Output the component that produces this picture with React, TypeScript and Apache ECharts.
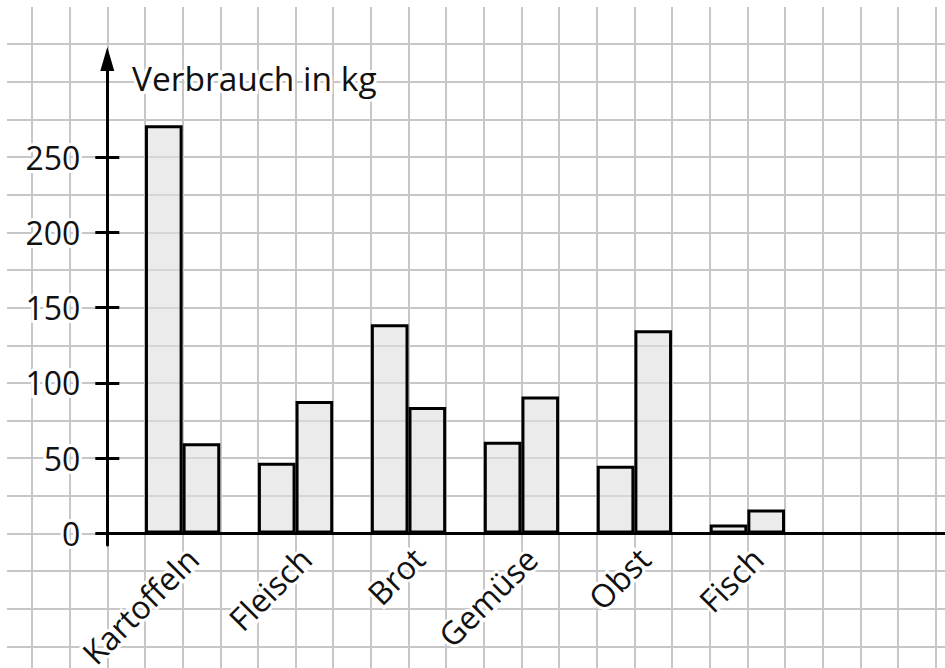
import React, { useEffect, useRef } from 'react';
import * as echarts from 'echarts';

const categories = ['Kartoffeln', 'Fleisch', 'Brot', 'Gemüse', 'Obst', 'Fisch'];
const seriesA = [271, 47, 139, 61, 45, 6];
const seriesB = [60, 88, 84, 91, 135, 16];
const yTickValues = [0, 50, 100, 150, 200, 250];
const yAxisTitle = 'Verbrauch in kg';

const U = 37.65;
const AXIS_X = 107.3;
const ZERO_Y = 533.5;
const FONT = '"Open Sans", "Noto Sans", sans-serif';

export default function App() {
  const ref = useRef<HTMLDivElement>(null);
  useEffect(() => {
    const chart = echarts.init(ref.current!, null, { renderer: 'svg' });
    const catPos = categories.map((_, i) => 2 + 3 * i);
    const pxPerUnit = (2 * U) / 50;
    const yMax = (ZERO_Y - 59) / pxPerUnit;
    const yMin = -(545 - ZERO_Y) / pxPerUnit;
    const xMax = (945 - AXIS_X) / U;
    const paperLine = { show: true, lineStyle: { color: '#c7c7c7', width: 2 } };
    const hidden = {
      axisLine: { show: false },
      axisTick: { show: false },
      axisLabel: { show: false },
      splitLine: { show: false },
    };
    const labelText = {
      fontFamily: FONT,
      fontSize: 32,
      color: '#111',
      textBorderColor: '#fff',
      textBorderWidth: 6,
    };
    const black = { color: '#000', width: 3 };
    const barStyle = {
      color: 'rgba(222,222,222,0.62)',
      borderColor: '#000',
      borderWidth: 3,
    };
    chart.setOption({
      animation: false,
      backgroundColor: '#fff',
      title: {
        text: yAxisTitle,
        left: 132,
        top: 61,
        padding: 0,
        textStyle: { ...labelText, fontSize: 33.5, fontWeight: 'normal' },
      },
      grid: [
        { left: 32, top: 7, width: 24 * U, height: 661, outerBoundsMode: 'none', containLabel: false },
        { left: 7, top: ZERO_Y - 13 * U, width: 938, height: 16 * U, outerBoundsMode: 'none', containLabel: false },
        { left: AXIS_X, top: 59, width: 945 - AXIS_X, height: 545 - 59, outerBoundsMode: 'none', containLabel: false },
      ],
      xAxis: [
        { gridIndex: 0, type: 'value', min: 0, max: 24, interval: 1, ...hidden, splitLine: paperLine },
        { gridIndex: 1, type: 'value', min: 0, max: 1, ...hidden },
        {
          gridIndex: 2,
          type: 'value',
          min: 0,
          max: xMax,
          z: 3,
          axisLine: { show: true, onZero: true, lineStyle: black },
          axisTick: { show: false },
          splitLine: { show: false },
          axisLabel: {
            show: true,
            customValues: catPos,
            formatter: (v: number) => categories[catPos.indexOf(v)] ?? '',
            rotate: 45,
            margin: 18,
            padding: [0, -14, 6, 0],
            hideOverlap: false,
            ...labelText,
          },
        },
      ],
      yAxis: [
        { gridIndex: 0, type: 'value', min: 0, max: 1, ...hidden },
        { gridIndex: 1, type: 'value', min: 0, max: 16, interval: 1, ...hidden, splitLine: paperLine },
        {
          gridIndex: 2,
          type: 'value',
          min: yMin,
          max: yMax,
          position: 'left',
          z: 3,
          axisLine: {
            show: true,
            onZero: false,
            symbol: ['none', 'triangle'],
            symbolSize: [14, 24],
            lineStyle: black,
          },
          axisTick: { show: true, customValues: yTickValues, length: 12, lineStyle: black },
          axisLabel: { show: true, customValues: yTickValues, margin: 27, ...labelText },
          splitLine: { show: false },
        },
        {
          gridIndex: 2,
          type: 'value',
          min: yMin,
          max: yMax,
          position: 'left',
          z: 3,
          axisLine: { show: false, onZero: false },
          axisTick: { show: true, inside: true, customValues: yTickValues, length: 12, lineStyle: black },
          axisLabel: { show: false },
          splitLine: { show: false },
        },
      ],
      series: [
        {
          type: 'bar',
          xAxisIndex: 2,
          yAxisIndex: 2,
          data: catPos.map((x, i) => [x, seriesA[i]]),
          barWidth: U,
          barGap: '0%',
          itemStyle: barStyle,
        },
        {
          type: 'bar',
          xAxisIndex: 2,
          yAxisIndex: 2,
          data: catPos.map((x, i) => [x, seriesB[i]]),
          barWidth: U,
          barGap: '0%',
          itemStyle: barStyle,
        },
      ],
    });
    return () => chart.dispose();
  }, []);
  return (
    <div
      ref={ref}
      style={{ position: 'fixed', left: 0, top: 0, width: 945, height: 668, background: '#fff' }}
    />
  );
}
